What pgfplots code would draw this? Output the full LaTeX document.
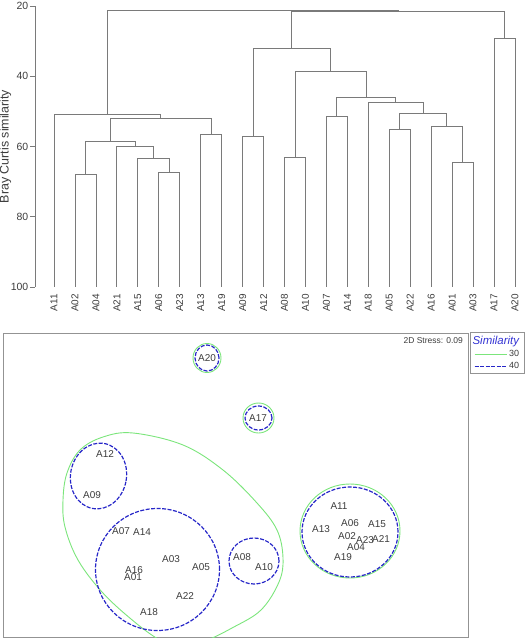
\documentclass[border=0pt]{standalone}
\usepackage{pgfplots}
\pgfplotsset{compat=1.18}
\usepackage{fontspec}
\setmainfont{Liberation Sans}

\definecolor{dgray}{HTML}{7A7A7A}
\definecolor{tgray}{HTML}{3C3C3C}
\definecolor{cgreen}{HTML}{7BE57B}
\definecolor{cblue}{HTML}{2626C8}
\definecolor{tblue}{HTML}{3434D4}

\pgfplotsset{den/.style={draw=dgray, line width=0.8bp, mark=none}}

\begin{document}
\begin{tikzpicture}
\path[use as bounding box] (0bp,0bp) rectangle (530bp,640bp);

% ---------------- dendrogram ----------------
\begin{axis}[
  at={(35bp,493.5bp)}, anchor=west,
  scale only axis, width=490bp, height=281bp,
  xmin=-0.907, xmax=22.48, ymin=20, ymax=100, y dir=reverse,
  axis lines*=left,
  x axis line style={draw=none},
  y axis line style={draw=dgray, line width=0.8bp},
  ytick={20,40,60,80,100},
  ytick align=outside, major tick length=5bp,
  ytick style={draw=dgray, line width=0.8bp},
  xtick={0,...,22},
  xtick style={draw=none},
  xticklabels={A11,A02,A04,A21,A15,A06,A23,A13,A19,A09,A12,A08,A10,A07,A14,A18,A05,A22,A16,A01,A03,A17,A20},
  xticklabel style={rotate=90, anchor=east, inner sep=0pt, font=\fontsize{10}{12}\selectfont, text=tgray, xshift=-7bp},
  /pgf/number format/assume math mode=true,
  yticklabel style={font=\fontsize{10.5}{12}\selectfont, text=tgray, inner sep=1.5bp},
  ylabel={Bray Curtis similarity},
  ylabel style={at={(axis description cs:-0.054,0.5)}, anchor=base, font=\fontsize{12.5}{14}\selectfont, text=tgray},
  clip=false,
]
% left cluster
\addplot[den] coordinates {(1,100)(1,68)(2,68)(2,100)};
\addplot[den] coordinates {(5,100)(5,67.4)(6,67.4)(6,100)};
\addplot[den] coordinates {(4,100)(4,63.5)(5.5,63.5)(5.5,67.4)};
\addplot[den] coordinates {(3,100)(3,60)(4.75,60)(4.75,63.5)};
\addplot[den] coordinates {(1.5,68)(1.5,58.5)(3.875,58.5)(3.875,60)};
\addplot[den] coordinates {(7,100)(7,56.5)(8,56.5)(8,100)};
\addplot[den] coordinates {(2.6875,58.5)(2.6875,52)(7.5,52)(7.5,56.5)};
\addplot[den] coordinates {(0,100)(0,50.8)(5.09375,50.8)(5.09375,52)};
% right cluster
\addplot[den] coordinates {(9,100)(9,57)(10,57)(10,100)};
\addplot[den] coordinates {(11,100)(11,63.2)(12,63.2)(12,100)};
\addplot[den] coordinates {(13,100)(13,51.3)(14,51.3)(14,100)};
\addplot[den] coordinates {(19,100)(19,64.4)(20,64.4)(20,100)};
\addplot[den] coordinates {(18,100)(18,54.2)(19.5,54.2)(19.5,64.4)};
\addplot[den] coordinates {(16,100)(16,55.1)(17,55.1)(17,100)};
\addplot[den] coordinates {(16.5,55.1)(16.5,50.5)(18.75,50.5)(18.75,54.2)};
\addplot[den] coordinates {(15,100)(15,47.5)(17.625,47.5)(17.625,50.5)};
\addplot[den] coordinates {(13.5,51.3)(13.5,46.1)(16.3125,46.1)(16.3125,47.5)};
\addplot[den] coordinates {(11.5,63.2)(11.5,38.5)(14.90625,38.5)(14.90625,46.1)};
\addplot[den] coordinates {(9.5,57)(9.5,32.2)(13.203,32.2)(13.203,38.5)};
\addplot[den] coordinates {(21,100)(21,29.1)(22,29.1)(22,100)};
\addplot[den] coordinates {(11.35,32.2)(11.35,21.6)(21.5,21.6)(21.5,29.1)};
\addplot[den] coordinates {(2.547,50.8)(2.547,21.2)(16.43,21.2)(16.43,21.6)};
\end{axis}

% ---------------- NMDS ----------------
\begin{axis}[
  at={(3bp,155bp)}, anchor=west,
  scale only axis, width=465bp, height=304bp,
  xmin=3, xmax=468, ymin=333, ymax=637, y dir=reverse,
  xtick=\empty, ytick=\empty,
  axis line style={draw=gray!85, line width=1bp},
  legend style={at={(1,1)}, anchor=north west, xshift=2bp, yshift=1bp,
    draw=gray!85, line width=0.8bp, font=\fontsize{9}{10}\selectfont, text=tgray,
    inner xsep=3.5bp, inner ysep=1.5bp, row sep=0.5bp},
  legend cell align=right,
  legend image code/.code={\draw[#1] (0bp,0bp) -- (32bp,0bp);},
]
\addlegendimage{empty legend}
\addlegendentry{\makebox[9bp][r]{\fontsize{11.5}{12}\selectfont\color{tblue}\itshape Similarity}}
\addlegendimage{cgreen, line width=0.9bp}
\addlegendentry{30}
\addlegendimage{cblue, line width=1.2bp, dash pattern=on 4bp off 1.5bp}
\addlegendentry{40}

% 30% contours (green)
\draw[cgreen, line width=0.9bp] plot[smooth cycle, tension=0.6] coordinates {
 (axis cs:133,433) (axis cs:183,445) (axis cs:223,470) (axis cs:257,503)
 (axis cs:277,530) (axis cs:283,558) (axis cs:279,582) (axis cs:261,610)
 (axis cs:232,628) (axis cs:203,642) (axis cs:180,648) (axis cs:158,639)
 (axis cs:131,619) (axis cs:102,592) (axis cs:78,560) (axis cs:65,527)
 (axis cs:63,500) (axis cs:67,473) (axis cs:80,450) (axis cs:103,437)};
\draw[cgreen, line width=0.9bp] (axis cs:207,358) ellipse [x radius=14bp, y radius=14.5bp];
\draw[cgreen, line width=0.9bp] (axis cs:258.5,418) ellipse [x radius=15.5bp, y radius=15bp];
\draw[cgreen, line width=0.9bp] (axis cs:350,531) ellipse [x radius=50bp, y radius=47bp];

% 40% contours (blue dashed)
\tikzset{c40/.style={cblue, line width=1.2bp, dash pattern=on 4bp off 1.5bp}}
\draw[c40] (axis cs:207,358) ellipse [x radius=12bp, y radius=13bp];
\draw[c40] (axis cs:258.5,418) ellipse [x radius=13.5bp, y radius=12bp];
\draw[c40] (axis cs:350,532) ellipse [x radius=48bp, y radius=45bp];
\draw[c40, rotate around={-10:(axis cs:98.5,476)}] (axis cs:98.5,476) ellipse [x radius=28bp, y radius=33bp];
\draw[c40] (axis cs:157.5,569.5) ellipse [x radius=62bp, y radius=61bp];
\draw[c40] (axis cs:254,561) ellipse [x radius=25bp, y radius=23bp];

\addplot[draw=none, mark=none, forget plot, nodes near coords, point meta=explicit symbolic,
  nodes near coords style={anchor=center, inner sep=0pt, text=tgray, font=\fontsize{10}{12}\selectfont}]
  table[meta=lab] {
x y lab
207 358 A20
258 418 A17
105 454 A12
92 495 A09
121 531 A07
142 532 A14
171 559 A03
201 567 A05
134 570 A16
133 577 A01
185 596 A22
149 612 A18
242 557 A08
264 567 A10
339 506 A11
321 529 A13
350 523 A06
377 524 A15
347 536 A02
365 540 A23
381 539 A21
356 547 A04
343 557 A19
};
\node[anchor=east, inner sep=0pt, text=tgray, font=\fontsize{8.5}{10}\selectfont] at (axis cs:463,341) {2D Stress: 0.09};
\end{axis}
\end{tikzpicture}
\end{document}
